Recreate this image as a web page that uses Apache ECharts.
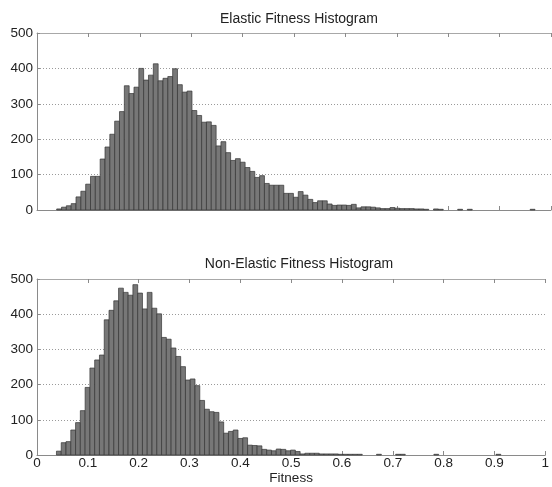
<!DOCTYPE html>
<html>
<head>
<meta charset="utf-8">
<script src="https://cdn.jsdelivr.net/npm/echarts@6/dist/echarts.min.js"></script>
<style>
  html, body { margin: 0; padding: 0; background: #fff; }
  #chart { width: 552px; height: 487px; }
</style>
</head>
<body>
<div id="chart"></div>
<script>
// Histogram bins: 100 equal-width bins starting at binStart
const binStart = 0.0383;
const binWidth = 0.0094;

const elasticCounts = [
  3, 8, 12, 18, 37, 53, 73, 95, 95, 144,
  178, 214, 251, 278, 351, 329, 347, 400, 367, 381,
  413, 365, 372, 377, 399, 354, 333, 336, 281, 267,
  248, 249, 239, 181, 193, 162, 140, 145, 135, 120,
  109, 92, 97, 75, 70, 70, 70, 47, 47, 36,
  52, 42, 30, 21, 26, 26, 17, 13, 14, 14,
  13, 16, 6, 9, 9, 8, 6, 4, 4, 7,
  5, 4, 4, 4, 3, 3, 2, 0, 3, 2,
  0, 0, 0, 2, 0, 2, 0, 0, 0, 0,
  0, 0, 0, 0, 0, 0, 0, 0, 2, 0
];

const nonElasticCounts = [
  11, 35, 38, 71, 92, 126, 192, 247, 270, 284,
  384, 411, 438, 474, 462, 454, 484, 460, 415, 462,
  417, 401, 334, 329, 304, 280, 251, 213, 216, 197,
  155, 130, 123, 121, 94, 62, 67, 71, 47, 49,
  28, 27, 26, 16, 14, 12, 17, 16, 12, 14,
  10, 3, 5, 5, 5, 3, 3, 3, 3, 2,
  2, 2, 2, 2, 0, 0, 0, 2, 0, 0,
  0, 2, 2, 0, 0, 0, 0, 0, 0, 2,
  0, 0, 0, 0, 0, 0, 0, 0, 0, 0,
  0, 0, 2, 0, 0, 0, 0, 0, 0, 0
];

const panelTitles = ['Elastic Fitness Histogram', 'Non-Elastic Fitness Histogram'];
const xAxisTitle = 'Fitness';

const FONT = "'Liberation Sans', Arial, sans-serif";
const AXIS_COLOR = '#8a8a8a';

function binsOf(counts) {
  return counts.map((c, i) => [binStart + i * binWidth, binStart + (i + 1) * binWidth, c]);
}

function renderBin(params, api) {
  const h = api.value(2);
  if (!h) return null;
  const p0 = api.coord([api.value(0), h]);
  const p1 = api.coord([api.value(1), 0]);
  return {
    type: 'rect',
    shape: { x: p0[0], y: p0[1], width: p1[0] - p0[0], height: p1[1] - p0[1] },
    style: { fill: '#777777', stroke: '#353535', lineWidth: 0.7 }
  };
}

const grids = [
  { left: 37, right: 1, top: 33, height: 177 },
  { left: 37, right: 1, top: 279, height: 176 }
];

const xAxes = [];
const yAxes = [];
const series = [];
const titles = [];

grids.forEach((g, i) => {
  const showLabels = i === 1;
  // bottom x axis
  xAxes.push({
    type: 'value', gridIndex: i, position: 'bottom',
    min: 0, max: 1, interval: 0.1,
    axisLine: { show: true, lineStyle: { color: AXIS_COLOR, width: 1 } },
    axisTick: { show: true, inside: true, length: 4, lineStyle: { color: AXIS_COLOR } },
    axisLabel: {
      show: showLabels, margin: 1, color: '#222', fontSize: 13.5, fontFamily: FONT,
      showMaxLabel: true, alignMaxLabel: 'center', hideOverlap: false
    },
    splitLine: { show: false },
    name: showLabels ? xAxisTitle : '',
    nameLocation: 'middle', nameGap: 12,
    nameTextStyle: { color: '#222', fontSize: 13.5, fontFamily: FONT }
  });
  // top frame axis
  xAxes.push({
    type: 'value', gridIndex: i, position: 'top',
    min: 0, max: 1, interval: 0.1,
    axisLine: { show: true, lineStyle: { color: '#a8a8a8', width: 1 } },
    axisTick: { show: true, inside: true, length: 4, lineStyle: { color: AXIS_COLOR } },
    axisLabel: { show: false },
    splitLine: { show: false }
  });
  yAxes.push({
    type: 'value', gridIndex: i,
    min: 0, max: 500, interval: 100,
    axisLine: { show: true, lineStyle: { color: AXIS_COLOR, width: 1 } },
    axisTick: { show: true, inside: true, length: 3, lineStyle: { color: AXIS_COLOR } },
    axisLabel: { margin: 4, color: '#222', fontSize: 13.5, fontFamily: FONT },
    splitLine: { show: true, lineStyle: { color: '#9a9a9a', type: [1, 2], width: 1 } }
  });
  titles.push({
    text: panelTitles[i],
    left: 294, textAlign: 'center',
    top: i === 0 ? 7 : 252,
    textStyle: { fontSize: 14, fontWeight: 'normal', color: '#222', fontFamily: FONT }
  });
  series.push({
    type: 'custom',
    xAxisIndex: i * 2, yAxisIndex: i,
    renderItem: renderBin,
    encode: { x: [0, 1], y: 2 },
    data: binsOf(i === 0 ? elasticCounts : nonElasticCounts),
    clip: false,
    silent: true
  });
});

const chart = echarts.init(document.getElementById('chart'), null, { renderer: 'canvas' });
chart.setOption({
  animation: false,
  backgroundColor: '#fff',
  title: titles,
  grid: grids,
  xAxis: xAxes,
  yAxis: yAxes,
  series: series
});
</script>
</body>
</html>
